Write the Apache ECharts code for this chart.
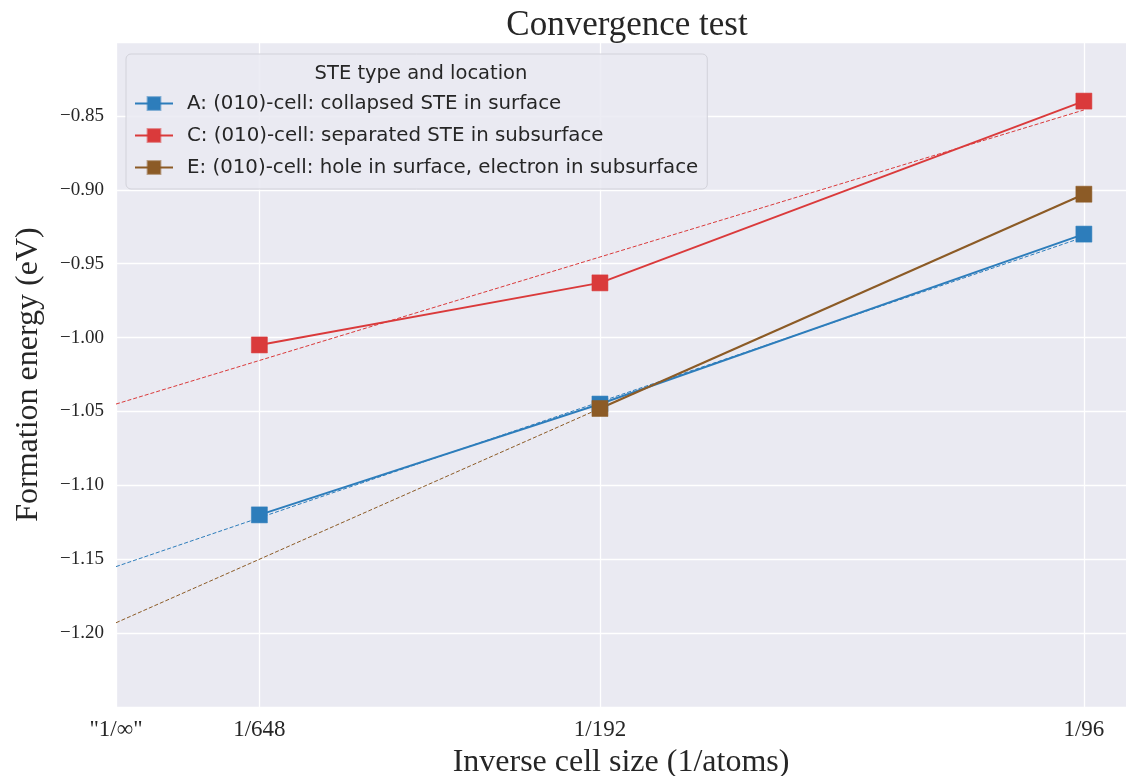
<!DOCTYPE html>
<html><head><meta charset="utf-8">
<script src="https://cdn.jsdelivr.net/npm/echarts@6/dist/echarts.min.js"></script>
<style>html,body{margin:0;padding:0;background:#fff}#c{width:1126px;height:776px}</style>
</head><body><div id="c"></div>
<script>
// Data
const seriesNames = [
  'A: (010)-cell: collapsed STE in surface',
  'C: (010)-cell: separated STE in subsurface',
  'E: (010)-cell: hole in surface, electron in subsurface'
];
const xA = [1/648, 1/192, 1/96];
const yA = [-1.120, -1.045, -0.930];
const xC = [1/648, 1/192, 1/96];
const yC = [-1.005, -0.963, -0.840];
const xE = [1/192, 1/96];
const yE = [-1.048, -0.903];
// dashed fit lines (endpoints read at x = 0 and x = 1/96)
const fitX = [0, 1/96];
const fitA = [-1.155, -0.932];
const fitC = [-1.045, -0.846];
const fitE = [-1.193, -0.903];
const xTickValues = [0, 1/648, 1/192, 1/96];
const xTickLabels = ['"1/\u221e"', '1/648', '1/192', '1/96'];
const colors = ['#2d7dbb', '#da3a3b', '#8c5b26'];

const pairs = (xs, ys) => xs.map((x, i) => [x, ys[i]]);

const serif = 'Liberation Serif';
const sans = 'DejaVu Sans';
const chart = echarts.init(document.getElementById('c'));

const mainSeries = [[xA, yA], [xC, yC], [xE, yE]].map((d, i) => ({
  name: seriesNames[i], type: 'line', data: pairs(d[0], d[1]),
  symbol: 'rect', symbolSize: 16, z: 5,
  lineStyle: { color: colors[i], width: 2 },
  itemStyle: { color: colors[i], borderColor: colors[i] + '88', borderWidth: 1 },
  emphasis: { disabled: true }, animation: false
}));
const fitSeries = [fitA, fitC, fitE].map((f, i) => ({
  name: 'fit' + i, type: 'line', data: pairs(fitX, f), symbol: 'none', z: 3,
  lineStyle: { color: colors[i], width: 1, type: [4, 2] },
  emphasis: { disabled: true }, animation: false
}));

chart.setOption({
  backgroundColor: '#ffffff',
  animation: false,
  title: [
    { text: 'Convergence test', left: 622, textAlign: 'center', top: 3, z: 20,
      textStyle: { fontFamily: serif, fontSize: 35, fontWeight: 'normal', color: '#262626' } },
    { text: 'STE type and location', left: 416, textAlign: 'center', top: 59, z: 20,
      textStyle: { fontFamily: sans, fontSize: 19.5, fontWeight: 'normal', color: '#262626' } }
  ],
  legend: {
    data: seriesNames, orient: 'vertical', left: 126, top: 54,
    padding: [39, 9, 11, 8], itemGap: 11, itemWidth: 38, itemHeight: 16,
    backgroundColor: 'rgba(234,234,242,0.85)', borderColor: '#d2d2da', borderWidth: 1, borderRadius: 5,
    textStyle: { fontFamily: sans, fontSize: 19.8, color: '#262626', lineHeight: 21, padding: [0, 0, 0, 9] },
    z: 10
  },
  grid: { left: 116, right: 0, top: 42, bottom: 69, backgroundColor: '#eaeaf2', show: true, borderWidth: 0,
    outerBoundsMode: 'none', containLabel: false },
  xAxis: {
    type: 'value', min: 0, max: 0.01087,
    name: 'Inverse cell size (1/atoms)', nameLocation: 'middle', nameGap: 40,
    nameTextStyle: { fontFamily: serif, fontSize: 32, color: '#262626' },
    axisLine: { show: false },
    axisTick: { show: false, customValues: xTickValues },
    axisLabel: { customValues: xTickValues, fontFamily: serif, fontSize: 23, color: '#262626', margin: 11,
      formatter: v => { const i = xTickValues.findIndex(t => Math.abs(t - v) < 1e-9); return i >= 0 ? xTickLabels[i] : ''; } },
    splitLine: { show: true, lineStyle: { color: '#ffffff', width: 1.3 } }
  },
  yAxis: {
    type: 'value', min: -1.25, max: -0.80, interval: 0.05,
    name: 'Formation energy (eV)', nameLocation: 'middle', nameGap: 71, nameRotate: 90,
    nameTextStyle: { fontFamily: serif, fontSize: 32, color: '#262626' },
    axisLine: { show: false }, axisTick: { show: false },
    axisLabel: { showMinLabel: false, showMaxLabel: false, fontFamily: serif, fontSize: 19, color: '#262626', margin: 12,
      formatter: v => (v < 0 ? '\u2212' : '') + Math.abs(v).toFixed(2) },
    splitLine: { show: true, lineStyle: { color: '#ffffff', width: 1.3 } }
  },
  series: fitSeries.concat(mainSeries)
});
</script></body></html>
